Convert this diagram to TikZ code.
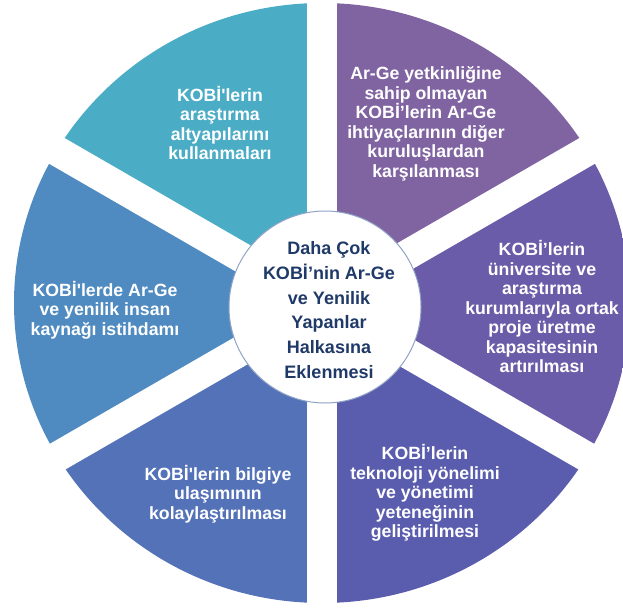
\documentclass[tikz,border=0pt]{standalone}
\usepackage{fontspec}
\setmainfont{Liberation Sans}
\usetikzlibrary{calc}
\definecolor{cTL}{HTML}{4BACC6}
\definecolor{cL}{HTML}{4F8BC0}
\definecolor{cBL}{HTML}{5472B8}
\definecolor{cBR}{HTML}{5A5DAE}
\definecolor{cR}{HTML}{6A5CA8}
\definecolor{cTR}{HTML}{8064A2}
\definecolor{cTxt}{HTML}{1F3A68}
\definecolor{cRing}{HTML}{8FA3C6}
\tikzset{
  segtext/.style={text=white, font=\fontsize{17.7}{19.5}\selectfont\bfseries, align=center, inner sep=0pt},
  hubtext/.style={text=cTxt, font=\fontsize{18}{24.7}\selectfont\bfseries, align=center, inner sep=0pt},
  gapbar/.style={white, line width=30pt},
}
\begin{document}
\begin{tikzpicture}[x=1pt,y=1pt]
\useasboundingbox (0,0) rectangle (623,-607);
\coordinate (C) at (322,-304);
\begin{scope}
  \clip (322,-303) ellipse [x radius=308, y radius=300];
  \fill[cTR] (C) -- ($(C)+(90:600)$) -- ($(C)+(30:600)$) -- cycle;
  \fill[cR]  (C) -- ($(C)+(30:600)$) -- ($(C)+(-30:600)$) -- cycle;
  \fill[cBR] (C) -- ($(C)+(-30:600)$) -- ($(C)+(-90:600)$) -- cycle;
  \fill[cBL] (C) -- ($(C)+(-90:600)$) -- ($(C)+(-150:600)$) -- cycle;
  \fill[cL]  (C) -- ($(C)+(-150:600)$) -- ($(C)+(150:600)$) -- cycle;
  \fill[cTL] (C) -- ($(C)+(150:600)$) -- ($(C)+(90:600)$) -- cycle;
\end{scope}
\foreach \a in {90,30,-30,-90,-150,150}
  \draw[gapbar] (C) -- ++(\a:400);
\node[circle, fill=white, draw=cRing, line width=1pt, minimum size=192pt, inner sep=0pt] (hub) at (325,-307) {};
\node[hubtext] (hubt) at (329,-310) {Daha Çok\\KOBİ’nin Ar-Ge\\ve Yenilik\\Yapanlar\\Halkasına\\Eklenmesi};
\node[segtext] (tl) at (220,-123) {KOBİ\textquotesingle lerin\\araştırma\\altyapılarını\\kullanmaları};
\node[segtext] (tr) at (426,-124) {Ar-Ge yetkinliğine\\sahip olmayan\\KOBİ’lerin Ar-Ge\\ihtiyaçlarının diğer\\kuruluşlardan\\karşılanması};
\node[segtext] (r) at (542,-307) {KOBİ’lerin\\üniversite ve\\araştırma\\kurumlarıyla ortak\\proje üretme\\kapasitesinin\\artırılması};
\node[segtext] (br) at (425,-493) {KOBİ’lerin\\teknoloji yönelimi\\ve yönetimi\\yeteneğinin\\geliştirilmesi};
\node[segtext] (bl) at (218,-494) {KOBİ\textquotesingle lerin bilgiye\\ulaşımının\\kolaylaştırılması};
\node[segtext] (l) at (105,-310) {KOBİ\textquotesingle lerde Ar-Ge\\ve yenilik insan\\kaynağı istihdamı};
\end{tikzpicture}
\end{document}
